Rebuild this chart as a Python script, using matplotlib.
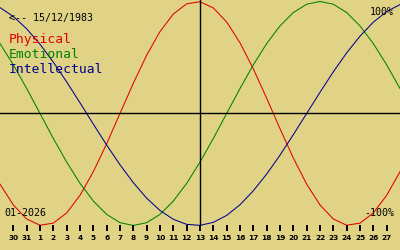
import matplotlib
matplotlib.use("Agg")
import matplotlib.pyplot as plt

# days shown along the bottom (Dec 30 .. Jan 27), centre day is the 13th
day_labels = ["30", "31"] + [str(d) for d in range(1, 28)]
centre_day = 13

# curve values, one per day from Dec 29 to Jan 28
physical = [-0.631, -0.817, -0.942, -0.998, -0.979, -0.888, -0.731, -0.520,
            -0.270, 0.000, 0.270, 0.520, 0.731, 0.888, 0.979, 0.998,
            0.942, 0.817, 0.631, 0.398, 0.136, -0.136, -0.398, -0.631,
            -0.817, -0.942, -0.998, -0.979, -0.888, -0.731, -0.520]
emotional = [0.624, 0.434, 0.223, 0.000, -0.223, -0.434, -0.624, -0.782,
             -0.901, -0.975, -1.000, -0.975, -0.901, -0.782, -0.624, -0.434,
             -0.223, 0.000, 0.223, 0.434, 0.624, 0.782, 0.901, 0.975,
             1.000, 0.975, 0.901, 0.782, 0.624, 0.434, 0.223]
intellectual = [0.945, 0.866, 0.756, 0.618, 0.458, 0.282, 0.095, -0.095,
                -0.282, -0.458, -0.618, -0.756, -0.866, -0.945, -0.990, -0.999,
                -0.972, -0.910, -0.815, -0.690, -0.541, -0.372, -0.189, 0.000,
                0.189, 0.372, 0.541, 0.690, 0.815, 0.910, 0.972]

birth = "15/12/1983"
month = "01-2026"

BG = "#e1d385"
RED, GREEN, BLUE = "#e00000", "#008000", "#000090"

fig = plt.figure(figsize=(4, 2.5), dpi=100, facecolor=BG)
ax = fig.add_axes([0, 0, 1, 1])
ax.set_facecolor(BG)
ax.set_axis_off()

days = list(range(-1, len(physical) - 1))
ax.plot(days, physical, color=RED, lw=0.75)
ax.plot(days, emotional, color=GREEN, lw=0.75)
ax.plot(days, intellectual, color=BLUE, lw=0.75)

ci = day_labels.index(str(centre_day))
ax.axhline(0, color="black", lw=1)
ax.vlines(ci, -1.0, 1.1, color="black", lw=1)

# day ticks and their labels along the bottom
ticks = list(range(len(day_labels)))
ax.vlines(ticks, -1.0, -1.05, color="black", lw=1.4, zorder=5)
for i, lab in zip(ticks, day_labels):
    ax.text(i, -1.115, lab, ha="center", va="center", fontsize=5.3,
            fontweight="bold", family="DejaVu Sans")

ax.set_xlim(-1, 29)
ax.set_ylim(-1.219, 1.013)

def px(x, y):
    return x / 400, 1 - y / 250

mono = "DejaVu Sans Mono"
fig.text(*px(9, 21), "<-- " + birth, fontsize=7.2, family=mono, va="baseline")
fig.text(*px(9, 43), "Physical", fontsize=9.4, family=mono, color=RED, va="baseline")
fig.text(*px(9, 58), "Emotional", fontsize=9.4, family=mono, color=GREEN, va="baseline")
fig.text(*px(9, 73), "Intellectual", fontsize=9.4, family=mono, color=BLUE, va="baseline")
fig.text(*px(4, 216), month, fontsize=7.2, family=mono, va="baseline")
fig.text(*px(394, 15), "100%", fontsize=7.2, family=mono, ha="right", va="baseline")
fig.text(*px(394, 216), "-100%", fontsize=7.2, family=mono, ha="right", va="baseline")

fig.savefig("out.png", dpi=100, facecolor=BG)
